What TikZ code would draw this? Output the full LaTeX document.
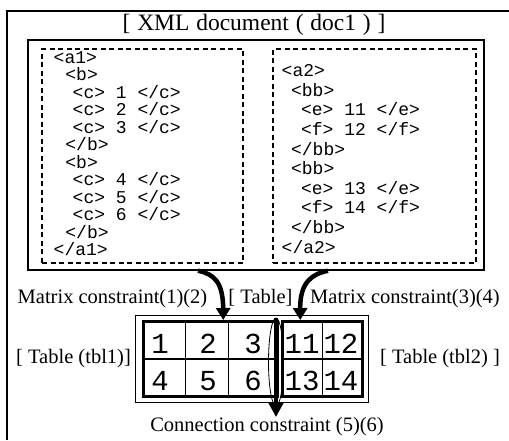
\documentclass[tikz,border=0pt]{standalone}
\usepackage{fontspec}
\setmainfont{Liberation Serif}
\setmonofont{Liberation Mono}
\usepackage{tikz}
\usetikzlibrary{arrows.meta,shapes.geometric}

\tikzset{
  lbl/.style={inner sep=0pt, anchor=base, font=\fontsize{20.5}{24}\selectfont},
  code/.style={inner sep=0pt, align=left, anchor=north west, font=\ttfamily\fontsize{18}{#1}\selectfont},
  num/.style={inner sep=0pt, anchor=base, font=\ttfamily\fontsize{29}{30}\selectfont},
  box/.style={draw, inner sep=0pt, line width=#1},
  dashbox/.style={draw, inner sep=0pt, line width=1.2pt, dash pattern=on 5pt off 3.5pt},
  cellline/.style={line width=1.2pt},
  bigarrow/.style={line width=4.5pt, -{Triangle[width=14pt,length=12pt]}},
}

\begin{document}
\begin{tikzpicture}[x=1pt,y=-1pt]
\useasboundingbox (0,0) rectangle (509,440);
% frame round the whole
\draw[line width=2pt] (7,440) |- (509,10.5);
\node[lbl, font=\fontsize{23.5}{26}\selectfont] (title) at (254,30.5) {\spaceskip=6.8pt [ XML document ( doc1 ) ]};

% XML document
\node[box=1.5pt, minimum width=456pt, minimum height=230pt] (xml) at (256,155) {};
\node[dashbox, minimum width=201pt, minimum height=214pt] (docA) at (142.5,156) {};
\node[dashbox, minimum width=203pt, minimum height=214pt] (docB) at (374.5,156) {};
\node[code=17.5] (txtA) at (53.5,51) {<a1>\\
  \hspace*{11.7pt}<b>\\
  \hspace*{19pt}<c> 1 </c>\\
  \hspace*{19pt}<c> 2 </c>\\
  \hspace*{19pt}<c> 3 </c>\\
  \hspace*{11.7pt}</b>\\
  \hspace*{11.7pt}<b>\\
  \hspace*{19pt}<c> 4 </c>\\
  \hspace*{19pt}<c> 5 </c>\\
  \hspace*{19pt}<c> 6 </c>\\
  \hspace*{11.7pt}</b>\\
  </a1>};
\node[code=19.6] (txtB) at (281.5,64.5) {<a2>\\
  \hspace*{9.4pt}<bb>\\
  \hspace*{19.4pt}<e> 11 </e>\\
  \hspace*{19.4pt}<f> 12 </f>\\
  \hspace*{9.4pt}</bb>\\
  \hspace*{9.4pt}<bb>\\
  \hspace*{19.4pt}<e> 13 </e>\\
  \hspace*{19.4pt}<f> 14 </f>\\
  \hspace*{9.4pt}</bb>\\
  </a2>};

% table
\node[box=1pt, minimum width=233pt, minimum height=87.5pt] (tbl) at (251.5,358.75) {};
\node[box=3pt, minimum width=134.5pt, minimum height=75pt] (tblA) at (210.25,359) {};
\node[box=3pt, minimum width=79.5pt, minimum height=75pt] (tblB) at (322.25,359) {};
\draw[cellline] (tblA.west) -- (tblA.east);
\draw[cellline] (tblB.west) -- (tblB.east);
\draw[cellline] ([xshift=44pt]tblA.north west) -- ([xshift=44pt]tblA.south west);
\draw[cellline] ([xshift=87pt]tblA.north west) -- ([xshift=87pt]tblA.south west);
\draw[cellline] (tblB.north) -- (tblB.south);
\node[num] (n1) at (160,353) {1};
\node[num] (n2) at (208,353) {2};
\node[num] (n3) at (253,353) {3};
\node[num] (n4) at (160,390) {4};
\node[num] (n5) at (208,390) {5};
\node[num] (n6) at (253,390) {6};
\node[num] (n11) at (302,353) {11};
\node[num] (n12) at (341,353) {12};
\node[num] (n13) at (302,390) {13};
\node[num] (n14) at (341,390) {14};
\node[draw, ellipse, line width=0.8pt, inner sep=0pt, minimum width=15pt, minimum height=88pt] (join) at (276,362) {};

% labels
\node[lbl] (mat12) at (112.5,303.5) {Matrix constraint(1)(2)};
\node[lbl] (tblname) at (260.5,303.5) {[ Table]};
\node[lbl] (mat34) at (405,303.5) {Matrix constraint(3)(4)};
\node[lbl] (tbl1) at (73.5,363) {[ Table (tbl1)]};
\node[lbl] (tbl2) at (440,363) {[ Table (tbl2) ]};
\node[lbl] (conn) at (267,431.5) {Connection constraint (5)(6)};

% constraints
\coordinate (srcA) at ([xshift=-58pt]xml.south);
\coordinate (srcB) at ([xshift=72pt]xml.south);
\draw[bigarrow] (srcA) .. controls (214,274) and (223,282) .. ([xshift=13pt]tblA.north);
\draw[bigarrow] (srcB) .. controls (312,274) and (300,282) .. ([xshift=-22pt]tblB.north);
\draw[line width=4pt, -{Triangle[width=14pt,length=14pt]}] (join.north) -- (join.north |- conn.north);
\end{tikzpicture}
\end{document}
